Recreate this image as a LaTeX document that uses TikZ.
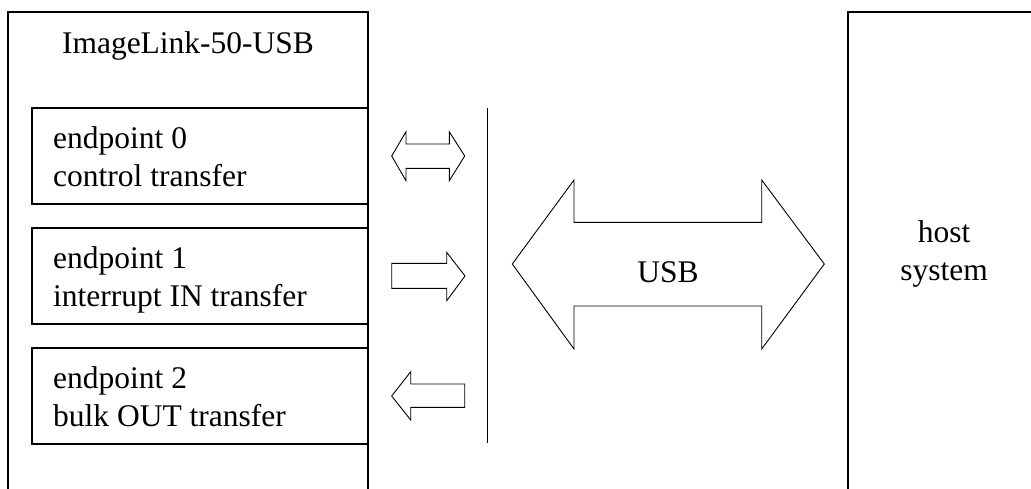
\documentclass[tikz,border=0pt]{standalone}
\usepackage{fontspec}
\setmainfont{Liberation Serif}
\begin{document}
\begin{tikzpicture}[x=1pt,y=-1pt,
  box/.style={draw=black,line width=1.1pt,fill=white},
  blockarrow/.style={draw=black,line width=0.9pt,fill=white,line join=miter},
  lbl/.style={font=\fontsize{31.5}{38}\selectfont,inner sep=0pt,align=left},
  clbl/.style={font=\fontsize{31.5}{38}\selectfont,inner sep=0pt,align=center}]
\useasboundingbox (0,0) rectangle (1031,488);
\clip (0,0) rectangle (1031,488);
% device box
\draw[box] (8,500) -- (8,12) -- (368,12) -- (368,500);
\node[lbl,anchor=base] (title) at (188,53) {ImageLink-50-USB};
% endpoint boxes
\draw[box] (32,108) rectangle (368,204);
\draw[box] (32,228) rectangle (368,324);
\draw[box] (32,348) rectangle (368,444);
\node[lbl,anchor=base west] (ep0) at (53,186) {endpoint 0\\control transfer};
\node[lbl,anchor=base west] (ep1) at (53,306) {endpoint 1\\interrupt IN transfer};
\node[lbl,anchor=base west] (ep2) at (53,426) {endpoint 2\\bulk OUT transfer};
% host box
\draw[box] (848,500) -- (848,12) -- (1040,12) -- (1040,500);
\node[clbl,anchor=base] (host) at (944,280) {host\\system};
% small arrows
\draw[blockarrow] (391.7,156) -- (406,131.7) -- (406,144) -- (449.3,144) -- (449.3,131.7)
  -- (464.7,156) -- (449.3,180.7) -- (449.3,168.3) -- (406,168.3) -- (406,180.7) -- cycle;
\draw[blockarrow] (391.7,263.3) -- (446.7,263.3) -- (446.7,252.3) -- (465,276)
  -- (446.7,300.7) -- (446.7,288.3) -- (391.7,288.3) -- cycle;
\draw[blockarrow] (391.7,396) -- (410.7,371.7) -- (410.7,384) -- (464.7,384)
  -- (464.7,407.3) -- (410.7,407.3) -- (410.7,420) -- cycle;
% bus line
\coordinate (bt) at (487.5,108);
\coordinate (bb) at (487.5,443);
\draw[line width=1.1pt] (bt) -- (bb);
% USB arrow
\draw[blockarrow] (512.3,264) -- (574,180) -- (574,222.3) -- (761.7,222.3) -- (761.7,180)
  -- (824.3,264) -- (761.7,349) -- (761.7,306) -- (574,306) -- (574,349) -- cycle;
\node[clbl,anchor=base] (usb) at (668,282) {USB};
\end{tikzpicture}
\end{document}
